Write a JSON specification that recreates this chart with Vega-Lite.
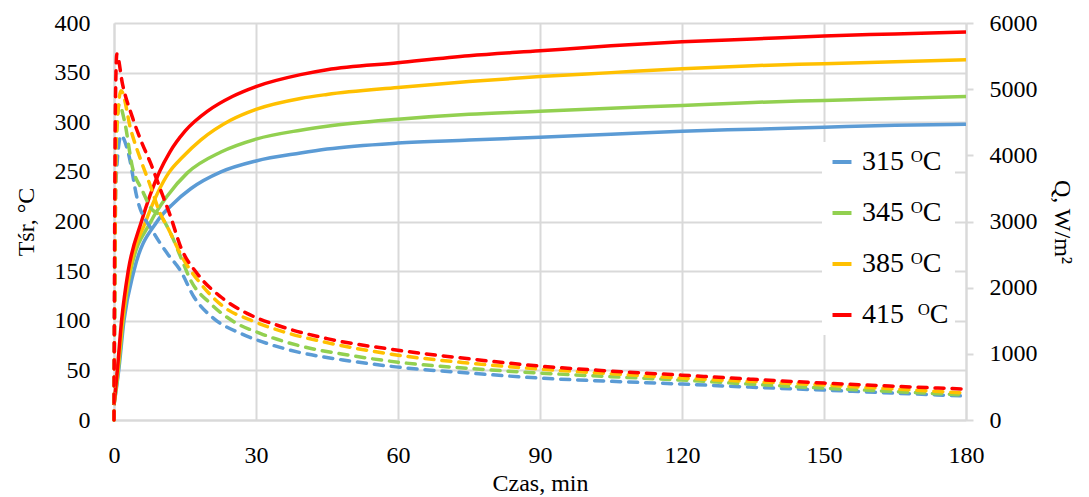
{
  "$schema": "https://vega.github.io/schema/vega-lite/v6.json",
  "width": 852,
  "height": 397,
  "autosize": {"type": "none"},
  "padding": {"left": 114, "top": 23, "right": 123, "bottom": 77},
  "background": "white",
  "config": {
    "view": {"stroke": null},
    "font": "Liberation Serif",
    "axis": {"labelFont": "Liberation Serif", "titleFont": "Liberation Serif", "labelColor": "#000000", "titleColor": "#000000", "titleFontWeight": "normal", "labelFontSize": 24, "titleFontSize": 24, "gridColor": "#D9D9D9", "gridWidth": 2, "domainColor": "#D9D9D9", "domainWidth": 2, "tickColor": "#D9D9D9", "tickWidth": 2, "labelFlush": false}
  },
  "datasets": {
    "temp": [
      {"t": 0, "s": "315 ᴼC", "v": 15}, {"t": 1, "s": "315 ᴼC", "v": 50}, {"t": 2.1, "s": "315 ᴼC", "v": 100}, {"t": 4.2, "s": "315 ᴼC", "v": 150}, {"t": 9.1, "s": "315 ᴼC", "v": 200}, {"t": 12.5, "s": "315 ᴼC", "v": 218}, {"t": 16.2, "s": "315 ᴼC", "v": 233}, {"t": 22.6, "s": "315 ᴼC", "v": 250}, {"t": 30, "s": "315 ᴼC", "v": 261}, {"t": 39.4, "s": "315 ᴼC", "v": 269}, {"t": 45, "s": "315 ᴼC", "v": 273}, {"t": 60, "s": "315 ᴼC", "v": 279}, {"t": 75, "s": "315 ᴼC", "v": 282}, {"t": 90, "s": "315 ᴼC", "v": 285}, {"t": 105, "s": "315 ᴼC", "v": 288}, {"t": 120, "s": "315 ᴼC", "v": 291}, {"t": 135, "s": "315 ᴼC", "v": 293}, {"t": 150, "s": "315 ᴼC", "v": 295}, {"t": 165, "s": "315 ᴼC", "v": 297}, {"t": 180, "s": "315 ᴼC", "v": 298},
      {"t": 0, "s": "345 ᴼC", "v": 15}, {"t": 0.9, "s": "345 ᴼC", "v": 50}, {"t": 1.9, "s": "345 ᴼC", "v": 100}, {"t": 3.5, "s": "345 ᴼC", "v": 150}, {"t": 7.8, "s": "345 ᴼC", "v": 200}, {"t": 11.3, "s": "345 ᴼC", "v": 226}, {"t": 15.5, "s": "345 ᴼC", "v": 249}, {"t": 22.6, "s": "345 ᴼC", "v": 270}, {"t": 30, "s": "345 ᴼC", "v": 283}, {"t": 39.4, "s": "345 ᴼC", "v": 292}, {"t": 45, "s": "345 ᴼC", "v": 296}, {"t": 60, "s": "345 ᴼC", "v": 303}, {"t": 75, "s": "345 ᴼC", "v": 308}, {"t": 90, "s": "345 ᴼC", "v": 311}, {"t": 105, "s": "345 ᴼC", "v": 314}, {"t": 120, "s": "345 ᴼC", "v": 317}, {"t": 135, "s": "345 ᴼC", "v": 320}, {"t": 150, "s": "345 ᴼC", "v": 322}, {"t": 165, "s": "345 ᴼC", "v": 324}, {"t": 180, "s": "345 ᴼC", "v": 326},
      {"t": 0, "s": "385 ᴼC", "v": 15}, {"t": 0.8, "s": "385 ᴼC", "v": 50}, {"t": 1.8, "s": "385 ᴼC", "v": 100}, {"t": 3.3, "s": "385 ᴼC", "v": 150}, {"t": 6.7, "s": "385 ᴼC", "v": 200}, {"t": 11.7, "s": "385 ᴼC", "v": 250}, {"t": 14.5, "s": "385 ᴼC", "v": 265}, {"t": 18.3, "s": "385 ᴼC", "v": 282}, {"t": 24.6, "s": "385 ᴼC", "v": 302}, {"t": 30, "s": "385 ᴼC", "v": 313}, {"t": 39.4, "s": "385 ᴼC", "v": 324}, {"t": 45, "s": "385 ᴼC", "v": 328}, {"t": 60, "s": "385 ᴼC", "v": 335}, {"t": 75, "s": "385 ᴼC", "v": 341}, {"t": 90, "s": "385 ᴼC", "v": 346}, {"t": 105, "s": "385 ᴼC", "v": 350}, {"t": 120, "s": "385 ᴼC", "v": 354}, {"t": 135, "s": "385 ᴼC", "v": 357}, {"t": 150, "s": "385 ᴼC", "v": 359}, {"t": 165, "s": "385 ᴼC", "v": 361}, {"t": 180, "s": "385 ᴼC", "v": 363},
      {"t": 0, "s": "415  ᴼC", "v": 15}, {"t": 0.7, "s": "415  ᴼC", "v": 50}, {"t": 1.6, "s": "415  ᴼC", "v": 100}, {"t": 3, "s": "415  ᴼC", "v": 150}, {"t": 5.8, "s": "415  ᴼC", "v": 200}, {"t": 9.6, "s": "415  ᴼC", "v": 250}, {"t": 11.8, "s": "415  ᴼC", "v": 270}, {"t": 15, "s": "415  ᴼC", "v": 291}, {"t": 20, "s": "415  ᴼC", "v": 312}, {"t": 25, "s": "415  ᴼC", "v": 326}, {"t": 30, "s": "415  ᴼC", "v": 336}, {"t": 39.4, "s": "415  ᴼC", "v": 348}, {"t": 45, "s": "415  ᴼC", "v": 353}, {"t": 60, "s": "415  ᴼC", "v": 360}, {"t": 75, "s": "415  ᴼC", "v": 367}, {"t": 90, "s": "415  ᴼC", "v": 372}, {"t": 105, "s": "415  ᴼC", "v": 377}, {"t": 120, "s": "415  ᴼC", "v": 381}, {"t": 135, "s": "415  ᴼC", "v": 384}, {"t": 150, "s": "415  ᴼC", "v": 387}, {"t": 165, "s": "415  ᴼC", "v": 389}, {"t": 180, "s": "415  ᴼC", "v": 391}
    ],
    "flux": [
      {"t": 0, "s": "315 ᴼC", "v": 0}, {"t": 0.4, "s": "315 ᴼC", "v": 3600}, {"t": 1.5, "s": "315 ᴼC", "v": 4300}, {"t": 2.9, "s": "315 ᴼC", "v": 4070}, {"t": 5, "s": "315 ᴼC", "v": 3317}, {"t": 8.1, "s": "315 ᴼC", "v": 2864}, {"t": 11.3, "s": "315 ᴼC", "v": 2513}, {"t": 14.1, "s": "315 ᴼC", "v": 2250}, {"t": 16.9, "s": "315 ᴼC", "v": 1859}, {"t": 21.1, "s": "315 ᴼC", "v": 1533}, {"t": 26.8, "s": "315 ᴼC", "v": 1307}, {"t": 32.4, "s": "315 ᴼC", "v": 1156}, {"t": 38.7, "s": "315 ᴼC", "v": 1030}, {"t": 50, "s": "315 ᴼC", "v": 890}, {"t": 60, "s": "315 ᴼC", "v": 799}, {"t": 75, "s": "315 ᴼC", "v": 710}, {"t": 90, "s": "315 ᴼC", "v": 633}, {"t": 105, "s": "315 ᴼC", "v": 585}, {"t": 120, "s": "315 ᴼC", "v": 543}, {"t": 135, "s": "315 ᴼC", "v": 495}, {"t": 150, "s": "315 ᴼC", "v": 452}, {"t": 165, "s": "315 ᴼC", "v": 405}, {"t": 180, "s": "315 ᴼC", "v": 362},
      {"t": 0, "s": "345 ᴼC", "v": 0}, {"t": 0.4, "s": "345 ᴼC", "v": 4000}, {"t": 1.1, "s": "345 ᴼC", "v": 4770}, {"t": 2.2, "s": "345 ᴼC", "v": 4523}, {"t": 3.9, "s": "345 ᴼC", "v": 3819}, {"t": 6, "s": "345 ᴼC", "v": 3467}, {"t": 7.8, "s": "345 ᴼC", "v": 3200}, {"t": 9.9, "s": "345 ᴼC", "v": 3080}, {"t": 12, "s": "345 ᴼC", "v": 2815}, {"t": 14.1, "s": "345 ᴼC", "v": 2462}, {"t": 16.2, "s": "345 ᴼC", "v": 2111}, {"t": 20.4, "s": "345 ᴼC", "v": 1759}, {"t": 25.4, "s": "345 ᴼC", "v": 1482}, {"t": 31, "s": "345 ᴼC", "v": 1307}, {"t": 38.7, "s": "345 ᴼC", "v": 1131}, {"t": 50, "s": "345 ᴼC", "v": 975}, {"t": 60, "s": "345 ᴼC", "v": 874}, {"t": 75, "s": "345 ᴼC", "v": 780}, {"t": 90, "s": "345 ᴼC", "v": 709}, {"t": 105, "s": "345 ᴼC", "v": 655}, {"t": 120, "s": "345 ᴼC", "v": 603}, {"t": 135, "s": "345 ᴼC", "v": 540}, {"t": 150, "s": "345 ᴼC", "v": 482}, {"t": 165, "s": "345 ᴼC", "v": 430}, {"t": 180, "s": "345 ᴼC", "v": 377},
      {"t": 0, "s": "385 ᴼC", "v": 0}, {"t": 0.5, "s": "385 ᴼC", "v": 4300}, {"t": 1.5, "s": "385 ᴼC", "v": 4975}, {"t": 3.6, "s": "385 ᴼC", "v": 4372}, {"t": 5.7, "s": "385 ᴼC", "v": 3920}, {"t": 7.8, "s": "385 ᴼC", "v": 3517}, {"t": 9.5, "s": "385 ᴼC", "v": 3166}, {"t": 11.3, "s": "385 ᴼC", "v": 2914}, {"t": 14.8, "s": "385 ᴼC", "v": 2412}, {"t": 18.3, "s": "385 ᴼC", "v": 2061}, {"t": 23.2, "s": "385 ᴼC", "v": 1708}, {"t": 28.9, "s": "385 ᴼC", "v": 1508}, {"t": 35.9, "s": "385 ᴼC", "v": 1331}, {"t": 45, "s": "385 ᴼC", "v": 1170}, {"t": 60, "s": "385 ᴼC", "v": 980}, {"t": 75, "s": "385 ᴼC", "v": 860}, {"t": 90, "s": "385 ᴼC", "v": 769}, {"t": 105, "s": "385 ᴼC", "v": 700}, {"t": 120, "s": "385 ᴼC", "v": 633}, {"t": 135, "s": "385 ᴼC", "v": 580}, {"t": 150, "s": "385 ᴼC", "v": 528}, {"t": 165, "s": "385 ᴼC", "v": 468}, {"t": 180, "s": "385 ᴼC", "v": 407},
      {"t": 0, "s": "415  ᴼC", "v": 0}, {"t": 0.3, "s": "415  ᴼC", "v": 4800}, {"t": 0.6, "s": "415  ᴼC", "v": 5530}, {"t": 1.8, "s": "415  ᴼC", "v": 5076}, {"t": 3.9, "s": "415  ᴼC", "v": 4573}, {"t": 5.7, "s": "415  ᴼC", "v": 4221}, {"t": 7.8, "s": "415  ᴼC", "v": 3870}, {"t": 9.9, "s": "415  ᴼC", "v": 3467}, {"t": 12, "s": "415  ᴼC", "v": 3065}, {"t": 14.1, "s": "415  ᴼC", "v": 2613}, {"t": 17.6, "s": "415  ᴼC", "v": 2211}, {"t": 22.6, "s": "415  ᴼC", "v": 1859}, {"t": 28.2, "s": "415  ᴼC", "v": 1608}, {"t": 34.5, "s": "415  ᴼC", "v": 1432}, {"t": 45, "s": "415  ᴼC", "v": 1230}, {"t": 60, "s": "415  ᴼC", "v": 1055}, {"t": 75, "s": "415  ᴼC", "v": 925}, {"t": 90, "s": "415  ᴼC", "v": 814}, {"t": 105, "s": "415  ᴼC", "v": 740}, {"t": 120, "s": "415  ᴼC", "v": 678}, {"t": 135, "s": "415  ᴼC", "v": 615}, {"t": 150, "s": "415  ᴼC", "v": 558}, {"t": 165, "s": "415  ᴼC", "v": 510}, {"t": 180, "s": "415  ᴼC", "v": 467}
    ]
  },
  "layer": [
    {
      "data": {"name": "temp"},
      "mark": {"type": "line", "strokeWidth": 3.5, "interpolate": "monotone"},
      "encoding": {
        "x": {"field": "t", "type": "quantitative", "scale": {"domain": [0, 180]}, "axis": {"values": [0, 30, 60, 90, 120, 150, 180], "title": "Czas, min", "ticks": false, "labelPadding": 23, "titlePadding": 4, "grid": true}},
        "y": {"field": "v", "type": "quantitative", "scale": {"domain": [0, 400]}, "axis": {"orient": "left", "values": [0, 50, 100, 150, 200, 250, 300, 350, 400], "title": "Tśr, °C", "grid": true, "ticks": false, "labelPadding": 24, "titlePadding": 16}},
        "color": {"field": "s", "type": "nominal", "scale": {"domain": ["315 ᴼC", "345 ᴼC", "385 ᴼC", "415  ᴼC"], "range": ["#5B9BD5", "#92D050", "#FFC000", "#FF0000"]}, "legend": {"orient": "none", "legendX": 708, "legendY": 119, "title": null, "symbolType": "stroke", "symbolStrokeWidth": 4, "symbolSize": 360, "symbolDash": [1, 0], "labelFont": "Liberation Serif", "labelFontSize": 28, "labelColor": "#000000", "labelExpr": "replace(datum.label, '  ', ' \u00a0')", "rowPadding": 23, "fillColor": "white", "padding": 6, "labelOffset": 6}}
      }
    },
    {
      "data": {"name": "flux"},
      "mark": {"type": "line", "strokeWidth": 3.5, "strokeDash": [9, 8], "strokeCap": "round", "interpolate": "monotone"},
      "encoding": {
        "x": {"field": "t", "type": "quantitative", "scale": {"domain": [0, 180]}},
        "y": {"field": "v", "type": "quantitative", "scale": {"domain": [0, 6000]}, "axis": {"orient": "right", "values": [0, 1000, 2000, 3000, 4000, 5000, 6000], "format": "d", "title": "Q, W/m²", "grid": false, "tickSize": 7, "labelPadding": 16, "titlePadding": 12}},
        "color": {"field": "s", "type": "nominal"}
      }
    }
  ],
  "resolve": {"scale": {"y": "independent"}}
}
